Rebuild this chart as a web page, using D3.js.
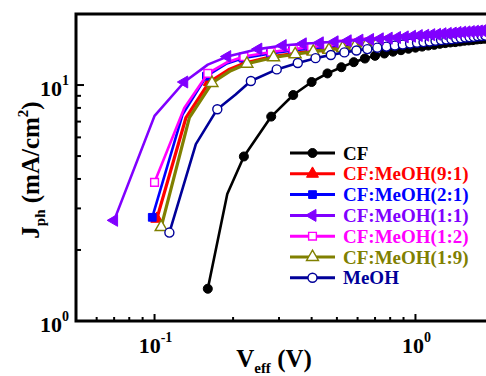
<!DOCTYPE html>
<html>
<head>
<meta charset="utf-8">
<script src="https://cdn.jsdelivr.net/npm/d3@7"></script>
<style>
  body { margin: 0; background: #fff; }
  text { font-family: "Liberation Serif", "Times New Roman", serif; font-weight: bold; }
</style>
</head>
<body>
<div id="chart"></div>
<script>
// photocurrent density vs effective voltage, log-log
var names = ["CF", "CF:MeOH(9:1)", "CF:MeOH(2:1)", "CF:MeOH(1:1)", "CF:MeOH(1:2)", "CF:MeOH(1:9)", "MeOH"];

// [V_eff (V), J_ph (mA/cm2)]
var cf = [[0.16,1.37],[0.19,3.45],[0.22,4.98],[0.28,7.35],[0.34,9.07],[0.40,10.3],[0.46,11.2],[0.52,11.9],[0.58,12.5],[0.64,12.95],[0.70,13.3],[0.76,13.6],[0.82,13.85],[0.88,14.05],[0.94,14.25],[1.00,14.4],[1.06,14.55],[1.12,14.7],[1.18,14.8],[1.24,14.95],[1.30,15.05],[1.36,15.15],[1.42,15.2],[1.48,15.3],[1.54,15.4],[1.60,15.45],[1.66,15.5],[1.72,15.6],[1.78,15.65],[1.84,15.7],[1.90,15.8]];
var r91 = [[0.102,2.71],[0.132,7.28],[0.162,10.3],[0.192,11.6],[0.222,12.4],[0.282,13.2],[0.342,13.6],[0.402,13.95],[0.462,14.2],[0.522,14.45],[0.582,14.65],[0.642,14.8],[0.702,14.95],[0.762,15.05],[0.822,15.2],[0.882,15.3],[0.942,15.4],[1.002,15.5],[1.062,15.6],[1.122,15.7],[1.182,15.8],[1.242,15.85],[1.302,15.95],[1.362,16.0],[1.422,16.1],[1.482,16.15],[1.542,16.2],[1.602,16.3],[1.662,16.35],[1.722,16.4],[1.782,16.45],[1.842,16.5],[1.902,16.55]];
var r21 = [[0.098,2.75],[0.128,7.5],[0.158,10.9],[0.188,12.3],[0.218,13.0],[0.278,13.6],[0.338,14.0],[0.398,14.3],[0.458,14.55],[0.518,14.75],[0.578,14.95],[0.638,15.1],[0.698,15.2],[0.758,15.3],[0.818,15.4],[0.878,15.5],[0.938,15.6],[0.998,15.7],[1.058,15.8],[1.118,15.9],[1.178,15.95],[1.238,16.05],[1.298,16.1],[1.358,16.15],[1.418,16.25],[1.478,16.3],[1.538,16.35],[1.598,16.4],[1.658,16.45],[1.718,16.5],[1.778,16.55],[1.838,16.6],[1.898,16.65]];
var r11 = [[0.07,2.67],[0.10,7.4],[0.13,10.3],[0.16,12.2],[0.19,13.2],[0.25,14.2],[0.31,14.7],[0.37,14.95],[0.43,15.1],[0.49,15.25],[0.55,15.4],[0.61,15.5],[0.67,15.6],[0.73,15.7],[0.79,15.8],[0.85,15.9],[0.91,16.0],[0.97,16.1],[1.03,16.2],[1.09,16.25],[1.15,16.35],[1.21,16.4],[1.27,16.5],[1.33,16.55],[1.39,16.6],[1.45,16.7],[1.51,16.75],[1.57,16.8],[1.63,16.85],[1.69,16.9],[1.75,16.95],[1.81,17.0],[1.87,17.05],[1.93,17.1]];
var r12 = [[0.10,3.87],[0.13,8.0],[0.16,11.2],[0.19,12.5],[0.22,13.2],[0.28,13.8],[0.34,14.2],[0.40,14.5],[0.46,14.7],[0.52,14.9],[0.58,15.05],[0.64,15.2],[0.70,15.3],[0.76,15.4],[0.82,15.5],[0.88,15.6],[0.94,15.7],[1.00,15.8],[1.06,15.9],[1.12,16.0],[1.18,16.05],[1.24,16.15],[1.30,16.2],[1.36,16.25],[1.42,16.35],[1.48,16.4],[1.54,16.45],[1.60,16.5],[1.66,16.55],[1.72,16.6],[1.78,16.65],[1.84,16.7],[1.90,16.75]];
var r19 = [[0.106,2.5],[0.136,7.28],[0.166,10.2],[0.196,11.5],[0.226,12.3],[0.286,13.1],[0.346,13.5],[0.406,13.85],[0.466,14.1],[0.526,14.35],[0.586,14.55],[0.646,14.7],[0.706,14.85],[0.766,15.0],[0.826,15.1],[0.886,15.2],[0.946,15.3],[1.006,15.4],[1.066,15.5],[1.126,15.6],[1.186,15.7],[1.246,15.8],[1.306,15.85],[1.366,15.95],[1.426,16.0],[1.486,16.05],[1.546,16.15],[1.606,16.2],[1.666,16.25],[1.726,16.3],[1.786,16.35],[1.846,16.4],[1.906,16.45]];
var meoh = [[0.114,2.37],[0.144,5.62],[0.174,7.9],[0.204,9.1],[0.234,10.4],[0.294,11.65],[0.354,12.4],[0.414,13.0],[0.474,13.4],[0.534,13.75],[0.594,14.0],[0.654,14.2],[0.714,14.4],[0.774,14.55],[0.834,14.7],[0.894,14.85],[0.954,15.0],[1.014,15.1],[1.074,15.2],[1.134,15.3],[1.194,15.4],[1.254,15.5],[1.314,15.6],[1.374,15.65],[1.434,15.75],[1.494,15.8],[1.554,15.9],[1.614,15.95],[1.674,16.0],[1.734,16.1],[1.794,16.15],[1.854,16.2]];

// points that sit on the line without a symbol
var bare = [[1], [1, 3], [1, 3], [1, 3], [1, 3], [1, 3], [1, 3]];

var xMajor = [0.1, 1];
var xMinor = [0.06, 0.07, 0.08, 0.09, 0.2, 0.3, 0.4, 0.5, 0.6, 0.7, 0.8, 0.9];
var yMajor = [1, 10];
var yMinor = [2, 3, 4, 5, 6, 7, 8, 9];

(function() {
  var colors = ["#000000", "#ff0000", "#0000ff", "#8000ff", "#ff00ff", "#808000", "#000099"];
  var shapes = ["circle", "triangle", "square", "left", "square", "triangle", "circle"];
  var filled = [true, true, true, true, false, false, false];
  var series = [cf, r91, r21, r11, r12, r19, meoh];
  var drawOrder = [0, 1, 2, 4, 5, 6, 3];

  var W = 486, H = 376;
  var pLeft = 76, pTop = 14, pBottom = 321, pRight = 494;

  var svg = d3.select("#chart").append("svg")
      .attr("width", W)
      .attr("height", H);

  var x = d3.scaleLog().domain([0.05, 2]).range([pLeft, pRight]);
  var y = d3.scaleLog().domain([1, 20]).range([pBottom, pTop]);

  svg.append("clipPath").attr("id", "clip")
    .append("rect")
      .attr("x", pLeft).attr("y", pTop)
      .attr("width", pRight - pLeft).attr("height", pBottom - pTop);

  function symbolPath(shape) {
    if (shape == "circle") return d3.symbol().type(d3.symbolCircle).size(64)();
    if (shape == "square") return d3.symbol().type(d3.symbolSquare).size(60)();
    return d3.symbol().type(d3.symbolTriangle).size(62)();
  }

  function drawMarker(g, shape, color, fill, px, py) {
    g.append("path")
      .attr("d", symbolPath(shape))
      .attr("transform", "translate(" + px + "," + py + ")" + (shape == "left" ? " rotate(-90)" : ""))
      .attr("fill", fill ? color : "#fff")
      .attr("stroke", color)
      .attr("stroke-width", fill ? 1 : 1.4);
  }

  var line = d3.line()
      .x(function(d) { return x(d[0]); })
      .y(function(d) { return y(d[1]); });

  var plot = svg.append("g").attr("clip-path", "url(#clip)");

  drawOrder.forEach(function(i) {
    var g = plot.append("g");
    g.append("path")
      .datum(series[i])
      .attr("d", line)
      .attr("fill", "none")
      .attr("stroke", colors[i])
      .attr("stroke-width", (i == 1 || i == 5) ? 3.2 : 2.6)
      .attr("stroke-linejoin", "round");
    series[i].forEach(function(d, k) {
      if (bare[i].indexOf(k) >= 0) return;
      drawMarker(g, shapes[i], colors[i], filled[i], x(d[0]), y(d[1]));
    });
  });

  // frame and ticks (ticks point inward)
  var axisG = svg.append("g").attr("stroke", "#000").attr("fill", "none");
  axisG.append("path")
    .attr("d", "M" + pLeft + "," + pTop + "H" + (pRight + 5) + "M" + pLeft + "," + pTop + "V" + pBottom + "H" + (pRight + 5))
    .attr("stroke-width", 3)
    .attr("stroke-linecap", "square");

  xMajor.concat(xMinor).forEach(function(v) {
    var len = xMajor.indexOf(v) >= 0 ? 7 : 4;
    axisG.append("line")
      .attr("x1", x(v)).attr("x2", x(v))
      .attr("y1", pBottom).attr("y2", pBottom - len)
      .attr("stroke-width", 2);
  });
  yMajor.concat(yMinor).forEach(function(v) {
    var len = yMajor.indexOf(v) >= 0 ? 8 : 5;
    axisG.append("line")
      .attr("x1", pLeft).attr("x2", pLeft + len)
      .attr("y1", y(v)).attr("y2", y(v))
      .attr("stroke-width", 2);
  });

  // tick labels as powers of ten
  xMajor.forEach(function(v) {
    var t = svg.append("text")
      .attr("x", x(v) + 1).attr("y", pBottom + 32)
      .attr("text-anchor", "middle")
      .style("font-size", "22px");
    t.append("tspan").text("10");
    t.append("tspan").attr("dy", -11).style("font-size", "14px").text(Math.round(Math.log10(v)));
  });
  yMajor.forEach(function(v) {
    var t = svg.append("text")
      .attr("x", 69).attr("y", y(v) + 11)
      .attr("text-anchor", "end")
      .style("font-size", "22px");
    t.append("tspan").text("10");
    t.append("tspan").attr("dy", -11).style("font-size", "14px").text(Math.round(Math.log10(v)));
  });

  // axis titles
  var xt = svg.append("text")
      .attr("x", 274).attr("y", 367)
      .attr("text-anchor", "middle")
      .style("font-size", "25px");
  xt.append("tspan").text("V");
  xt.append("tspan").attr("dy", 6).style("font-size", "15px").text("eff");
  xt.append("tspan").attr("dy", -6).text(" (V)");

  var yt = svg.append("text")
      .attr("transform", "translate(39,170) rotate(-90)")
      .attr("text-anchor", "middle")
      .style("font-size", "25px");
  yt.append("tspan").text("J");
  yt.append("tspan").attr("dy", 6).style("font-size", "15px").text("ph");
  yt.append("tspan").attr("dy", -6).text(" (mA/cm");
  yt.append("tspan").attr("dy", -11).style("font-size", "15px").text("2");
  yt.append("tspan").attr("dy", 11).text(")");

  // legend
  var legend = svg.append("g");
  names.forEach(function(name, i) {
    var ly = 153 + i * 20.8;
    legend.append("line")
      .attr("x1", 290).attr("x2", 335)
      .attr("y1", ly).attr("y2", ly)
      .attr("stroke", colors[i])
      .attr("stroke-width", 3);
    drawMarker(legend, shapes[i], colors[i], filled[i], 312.5, ly);
    legend.append("text")
      .attr("x", 343).attr("y", ly + 6.5)
      .attr("fill", colors[i])
      .style("font-size", "19px")
      .text(name);
  });
})();
</script>
</body>
</html>
